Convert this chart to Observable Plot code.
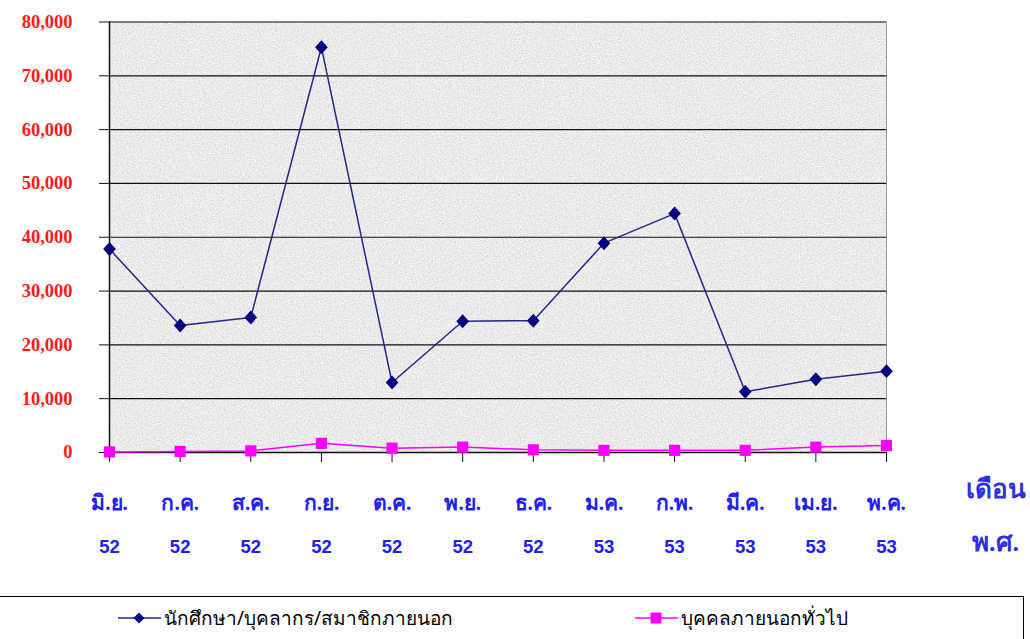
<!DOCTYPE html>
<html><head><meta charset="utf-8">
<script src="https://cdn.jsdelivr.net/npm/d3@7"></script>
<script src="https://cdn.jsdelivr.net/npm/@observablehq/plot@0.6"></script>
<style>
html,body{margin:0;padding:0;background:#fff;width:1030px;height:639px;overflow:hidden;}
#chart svg{display:block;}
#legend{position:relative;width:1024px;height:44px;border-top:1px solid #000;border-right:1px solid #000;box-sizing:border-box;font-family:"Noto Sans",sans-serif;font-size:19px;color:#000;}
.item{position:absolute;top:6px;display:flex;align-items:center;height:30px;}
.item svg{display:block;margin-right:3px;}
</style></head><body>
<div id="chart"></div>
<div id="legend"></div>
<script>
const months = ["มิ.ย.","ก.ค.","ส.ค.","ก.ย.","ต.ค.","พ.ย.","ธ.ค.","ม.ค.","ก.พ.","มี.ค.","เม.ย.","พ.ค."];
const years = ["52","52","52","52","52","52","52","53","53","53","53","53"];
const students = [37800,23600,25100,75300,13000,24400,24500,38900,44400,11300,13600,15100];
const general = [100,200,300,1700,800,1000,500,400,400,400,1000,1300];
const yTicks = [0,10000,20000,30000,40000,50000,60000,70000,80000];
const seriesNames = ["นักศึกษา/บุคลากร/สมาชิกภายนอก","บุคคลภายนอกทั่วไป"];
const axisTitle = ["เดือน","พ.ศ."];

const rowsA = months.map((m,i)=>({m, v: students[i]}));
const rowsB = months.map((m,i)=>({m, v: general[i]}));
const labelRows = months.map((m,i)=>({m, y: years[i]}));

// diamond marker roughly as wide as tall
const diamond = {draw(ctx, size){ const h = Math.sqrt(size/2) * 1.05, w = Math.sqrt(size/2) * 0.95;
  ctx.moveTo(0,-h); ctx.lineTo(w,0); ctx.lineTo(0,h); ctx.lineTo(-w,0); ctx.closePath(); }};

const chart = Plot.plot({
  width: 1030, height: 596,
  marginLeft: 109, marginRight: 144, marginTop: 21, marginBottom: 144,
  x: {type: "point", domain: months, padding: 0, range: [109, 886], round: false},
  y: {domain: [0, 80000], range: [452, 21.5]},
  marks: [
    Plot.frame({fill: "#e9e9e9", stroke: null}),
    Plot.ruleY(yTicks, {stroke: "#111", strokeWidth: 1.2}),
    Plot.ruleX([months[months.length-1]], {y1: 0, y2: 80000, stroke: "#999", strokeWidth: 1}),
    Plot.axisY({ticks: yTicks, tickFormat: d3.format(","), tickSize: 10, tickPadding: 27, stroke: "#111",
      fill: "#ff1a1a", fontWeight: "bold", fontSize: 18.5, fontFamily: "Liberation Serif", label: null}),
    Plot.axisX({tickSize: 10, tickFormat: () => "", stroke: "#111", label: null}),
    Plot.ruleX([months[0]], {y1: 0, y2: 80000, stroke: "#111", strokeWidth: 1.5}),
    Plot.ruleY([0], {stroke: "#111", strokeWidth: 1.5}),
    Plot.text(labelRows, {x: "m", text: "m", frameAnchor: "bottom", dy: 57, fill: "#2020f0", fontWeight: "bold", fontSize: 21, fontFamily: "Liberation Serif"}),
    Plot.text(labelRows, {x: "m", text: "y", frameAnchor: "bottom", dy: 100, fill: "#2020f0", fontWeight: "bold", fontSize: 18.5, fontFamily: "Liberation Sans"}),
    Plot.text([axisTitle[0]], {text: d => d, frameAnchor: "bottom-right", textAnchor: "middle", dx: 109, dy: 45, fill: "#3030d8", fontWeight: "bold", fontSize: 26, fontFamily: "Liberation Serif"}),
    Plot.text([axisTitle[1]], {text: d => d, frameAnchor: "bottom-right", textAnchor: "middle", dx: 109, dy: 98, fill: "#3030d8", fontWeight: "bold", fontSize: 26, fontFamily: "Liberation Serif"}),
    Plot.line(rowsB, {x: "m", y: "v", stroke: "#ff00ff", strokeWidth: 1.5}),
    Plot.dot(rowsB, {x: "m", y: "v", symbol: "square", r: 6.3, fill: "#ff00ff", stroke: null}),
    Plot.line(rowsA, {x: "m", y: "v", stroke: "#25258f", strokeWidth: 1.5}),
    Plot.dot(rowsA, {x: "m", y: "v", symbol: diamond, r: 5.3, fill: "#000080", stroke: null})
  ]
});

// texture on plot background
const ns = "http://www.w3.org/2000/svg";
const defs = document.createElementNS(ns, "defs");
defs.innerHTML = `<filter id="tex" x="0" y="0" width="1" height="1" filterUnits="objectBoundingBox" color-interpolation-filters="sRGB">
<feTurbulence type="fractalNoise" baseFrequency="0.7" numOctaves="3" seed="7" result="n"/>
<feColorMatrix in="n" type="matrix" values="0.33 0.33 0.33 0 0  0.33 0.33 0.33 0 0  0.33 0.33 0.33 0 0  0 0 0 0 1" result="g"/>
<feComponentTransfer in="g"><feFuncR type="linear" slope="0.45" intercept="0.70"/><feFuncG type="linear" slope="0.45" intercept="0.70"/><feFuncB type="linear" slope="0.45" intercept="0.70"/><feFuncA type="linear" slope="0" intercept="1"/></feComponentTransfer>
</filter>`;
chart.insertBefore(defs, chart.firstChild);
let fr = chart.querySelector('[aria-label="frame"]');
if (fr && fr.tagName.toLowerCase() !== "rect") fr = fr.querySelector("rect");
if (fr) fr.setAttribute("filter", "url(#tex)");

document.getElementById("chart").appendChild(chart);

// legend
const lg = document.getElementById("legend");
function item(left, color, shape, name){
  const d = document.createElement("div");
  d.className = "item"; d.style.left = left + "px";
  const s = shape === "diamond"
    ? `<polygon points="21,9.5 26.5,15 21,20.5 15.5,15" fill="#000080"/>`
    : `<rect x="15.5" y="9.5" width="11" height="11" fill="${color}"/>`;
  d.innerHTML = `<svg width="43" height="30"><line x1="0" y1="15" x2="43" y2="15" stroke="${color}" stroke-width="1.5"/>${s}</svg><span>${name}</span>`;
  lg.appendChild(d);
}
item(118, "#25258f", "diamond", seriesNames[0]);
item(635, "#ff00ff", "square", seriesNames[1]);
</script>
</body></html>
